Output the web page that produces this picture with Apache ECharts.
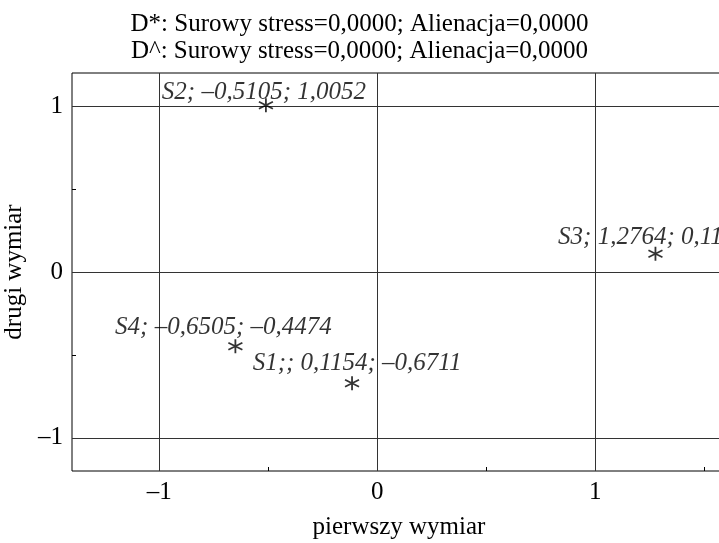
<!DOCTYPE html>
<html>
<head>
<meta charset="utf-8">
<script src="https://cdn.jsdelivr.net/npm/echarts@6/dist/echarts.min.js"></script>
<style>
  html, body { margin: 0; padding: 0; background: #fff; }
  #chart { width: 719px; height: 543px; }
</style>
</head>
<body>
<div id="chart"></div>
<script>
// punkty (wymiar 1, wymiar 2)
var pointNames = ['S1', 'S2', 'S3', 'S4'];
var dim1 = [-0.1154, -0.5105, 1.2764, -0.6505];
var dim2 = [-0.6711, 1.0052, 0.11, -0.4474];
var pointLabels = ['S1;; 0,1154; \u20130,6711', 'S2; \u20130,5105; 1,0052', 'S3; 1,2764; 0,11', 'S4; \u20130,6505; \u20130,4474'];
var majorTicks = [-1, 0, 1];
var xMinorTicks = [-1.5, -0.5, 0.5, 1.5];
var yMinorTicks = [-0.5, 0.5];

// przesuniecia etykiet [dx, dy]
var labelShift = {S1: [5, 2], S2: [-2, 9], S3: [-15, 6], S4: [-12, 3]};

var chartDom = document.getElementById('chart');
var myChart = echarts.init(chartDom);
var option;

var serif = '"Liberation Serif", "DejaVu Serif", serif';
var asterisk = 'path://M0,-7L0,7M-6.06,-3.5L6.06,3.5M-6.06,3.5L6.06,-3.5';

var data = pointNames.map(function (n, i) {
    return {
        name: n,
        value: [dim1[i], dim2[i]],
        label: {offset: labelShift[n], formatter: pointLabels[i]}
    };
});

function minus(v) {
    return String(v).replace('-', '\u2013');
}

option = {
    animation: false,
    backgroundColor: '#fff',
    title: {
        text: 'D*: Surowy stress=0,0000; Alienacja=0,0000\nD^: Surowy stress=0,0000; Alienacja=0,0000',
        left: 'center',
        top: 6,
        textStyle: {
            fontFamily: serif,
            fontWeight: 'normal',
            fontSize: 25,
            lineHeight: 27,
            color: '#000'
        }
    },
    grid: {
        left: 72,
        top: 73,
        width: 654,
        height: 398,
        outerBoundsMode: 'none',
        show: true,
        borderColor: '#000',
        borderWidth: 1
    },
    xAxis: [
        {
            type: 'value',
            min: -1.4,
            max: 1.6,
            name: 'pierwszy wymiar',
            nameLocation: 'middle',
            nameGap: 44,
            nameTextStyle: {fontFamily: serif, fontSize: 25, color: '#000'},
            axisLine: {show: false, onZero: false},
            axisTick: {show: false, customValues: majorTicks},
            axisLabel: {
                customValues: majorTicks,
                fontFamily: serif, fontSize: 25, color: '#000', margin: 9,
                formatter: minus
            },
            splitLine: {show: true, lineStyle: {color: '#333', width: 1}}
        },
        {
            type: 'value',
            min: -1.4,
            max: 1.6,
            position: 'bottom',
            axisLine: {show: false, onZero: false},
            axisTick: {show: true, inside: true, length: 4, customValues: xMinorTicks, lineStyle: {color: '#000'}},
            axisLabel: {show: false},
            splitLine: {show: false}
        }
    ],
    yAxis: [
        {
            type: 'value',
            min: -1.2,
            max: 1.2,
            name: 'drugi wymiar',
            nameLocation: 'middle',
            nameGap: 45,
            nameTextStyle: {fontFamily: serif, fontSize: 25, color: '#000'},
            axisLine: {show: false, onZero: false},
            axisTick: {show: false, customValues: majorTicks},
            axisLabel: {
                customValues: majorTicks,
                fontFamily: serif, fontSize: 25, color: '#000', margin: 9,
                formatter: minus
            },
            splitLine: {show: true, lineStyle: {color: '#333', width: 1}}
        },
        {
            type: 'value',
            min: -1.2,
            max: 1.2,
            position: 'left',
            axisLine: {show: false, onZero: false},
            axisTick: {show: true, inside: true, length: 4, customValues: yMinorTicks, lineStyle: {color: '#000'}},
            axisLabel: {show: false},
            splitLine: {show: false}
        }
    ],
    series: [
        {
            type: 'scatter',
            symbol: asterisk,
            symbolSize: 14,
            itemStyle: {color: 'none', borderColor: '#000', borderWidth: 1.8},
            label: {
                show: true,
                position: 'top',
                distance: 0,
                fontFamily: serif,
                fontStyle: 'italic',
                fontSize: 25,
                color: '#000'
            },
            data: data
        }
    ]
};

option && myChart.setOption(option);
</script>
</body>
</html>
